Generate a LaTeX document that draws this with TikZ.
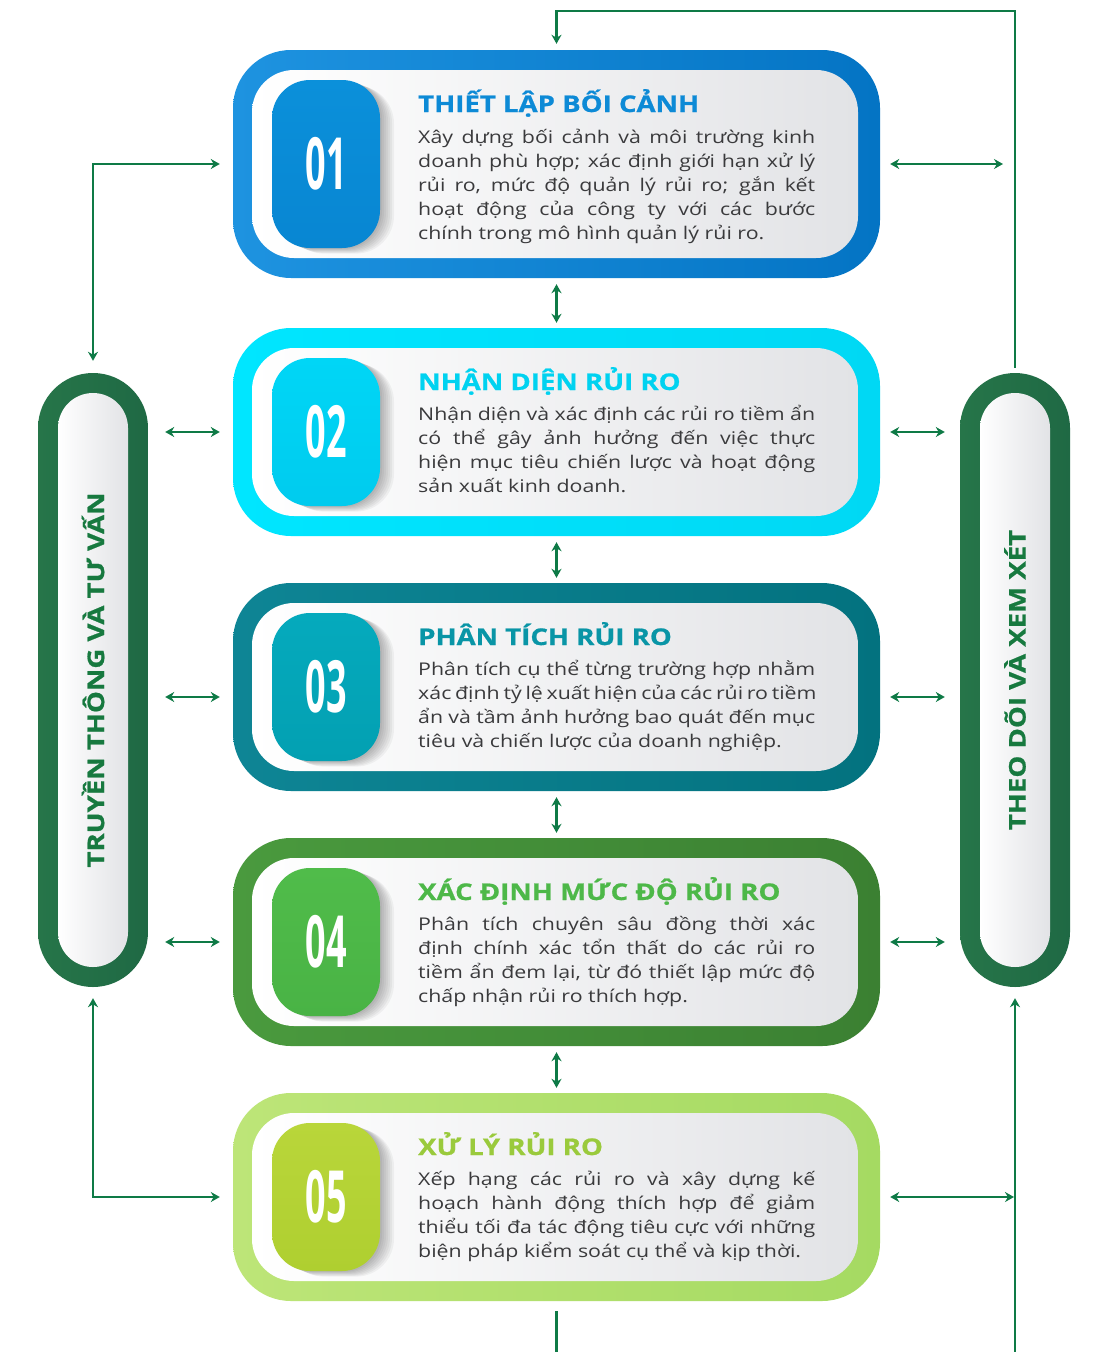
\documentclass[tikz,border=0pt]{standalone}
\usepackage{fontspec}
\usepackage{graphicx}
\setmainfont{Open Sans}[FakeStretch=1.22]
\newfontfamily\numfont{Open Sans}[FakeStretch=0.5]
\newfontfamily\headfont{Open Sans}[FakeStretch=1.2,BoldFeatures={FakeBold=0.8}]
\usetikzlibrary{arrows.meta}

\definecolor{c1a}{HTML}{1E93E0}\definecolor{c1b}{HTML}{0474C4}
\definecolor{c1c}{HTML}{0B90DA}\definecolor{c1d}{HTML}{0886D2}\definecolor{c1t}{HTML}{0D8AD6}
\definecolor{c2a}{HTML}{00E6FF}\definecolor{c2b}{HTML}{00D8F4}
\definecolor{c2c}{HTML}{00D6F6}\definecolor{c2d}{HTML}{00CBEE}\definecolor{c2t}{HTML}{00D2F0}
\definecolor{c3a}{HTML}{0E8595}\definecolor{c3b}{HTML}{03727F}
\definecolor{c3c}{HTML}{05AABD}\definecolor{c3d}{HTML}{03A0B2}\definecolor{c3t}{HTML}{0995A6}
\definecolor{c4a}{HTML}{4A9A3E}\definecolor{c4b}{HTML}{3B8032}
\definecolor{c4c}{HTML}{50BC4A}\definecolor{c4d}{HTML}{49B345}\definecolor{c4t}{HTML}{4DB848}
\definecolor{c5a}{HTML}{BDE578}\definecolor{c5b}{HTML}{A5DA62}
\definecolor{c5c}{HTML}{B9D63A}\definecolor{c5d}{HTML}{AFCF30}\definecolor{c5t}{HTML}{9ACA3C}
\definecolor{panelg}{HTML}{E2E3E6}
\definecolor{bodyg}{HTML}{3A3A3C}
\definecolor{pillA}{HTML}{267549}\definecolor{pillB}{HTML}{1F6944}
\definecolor{sideg}{HTML}{17793F}
\definecolor{lineg}{HTML}{0E7A46}

\tikzset{
 outerbox/.style={rectangle, rounded corners=58pt, minimum width=647pt, inner sep=0pt},
 panelbox/.style={rectangle, rounded corners=42pt, minimum width=606pt, inner sep=0pt, left color=white, right color=panelg},
 badgebox/.style={rectangle, rounded corners=38pt, minimum width=108pt, inner sep=0pt, text=white, font=\numfont\bfseries\fontsize{72}{72}\selectfont},
 shadowbox/.style={rectangle, rounded corners=38pt, minimum width=108pt, inner sep=0pt, fill=black, opacity=0.045},
 titletxt/.style={inner sep=0pt, font=\headfont\bfseries\fontsize{23}{26}\selectfont},
 bodytxt/.style={inner sep=0pt, text=bodyg, font=\fontsize{17.5}{24}\selectfont},
 pillout/.style={rectangle, rounded corners=55pt, minimum width=110pt, minimum height=614pt, inner sep=0pt, left color=pillA, right color=pillB},
 pillin/.style={rectangle, rounded corners=35pt, minimum width=70pt, minimum height=574pt, inner sep=0pt, left color=white, right color=panelg},
 sidetxt/.style={inner sep=0pt, text=sideg, font=\headfont\bfseries\fontsize{23}{24}\selectfont, rotate=90},
 conn/.style={draw=lineg, line width=2.2pt},
 >={Stealth[length=9pt,width=10pt]},
}

\newcommand\jl[1]{\makebox[\linewidth][s]{#1}\par}
\newcommand\riskcard[8]{%
 \node[outerbox, minimum height=#3, left color=#1a, right color=#1b] (#1) at (556.5,#2) {};
 \node[panelbox, minimum height={#3-40}] (#1p) at (555,#2) {};
 \foreach \s in {2,4,...,14} \node[shadowbox, minimum height={#3-60}] at ({326+\s},{#2+0.4*\s}) {};
 \node[badgebox, minimum height={#3-60}, top color=#1c, bottom color=#1d] (#1n) at (326,#2) {#4};
 \node[titletxt, text=#1t, anchor=base west] (#1h) at (418,#6) {#5};
 \node[bodytxt, anchor=base west] (#1x) at (418,#7) {\parbox[t]{397pt}{#8}};
}

\begin{document}
\begin{tikzpicture}[x=1pt,y=-1pt]
\fill[white] (0,0) rectangle (1097,1352);
\useasboundingbox (0,0) rectangle (1097,1352);

\riskcard{c1}{164}{228}{01}{THIẾT LẬP BỐI CẢNH}{112}{143}{%
\jl{Xây dựng bối cảnh và môi trường kinh}
\jl{doanh phù hợp; xác định giới hạn xử lý}
\jl{rủi ro, mức độ quản lý rủi ro; gắn kết}
\jl{hoạt động của công ty với các bước}
chính trong mô hình quản lý rủi ro.}

\riskcard{c2}{432}{208}{02}{NHẬN DIỆN RỦI RO}{390}{420}{%
\jl{Nhận diện và xác định các rủi ro tiềm ẩn}
\jl{có thể gây ảnh hưởng đến việc thực}
\jl{hiện mục tiêu chiến lược và hoạt động}
sản xuất kinh doanh.}

\riskcard{c3}{687}{208}{03}{PHÂN TÍCH RỦI RO}{645}{675}{%
\jl{Phân tích cụ thể từng trường hợp nhằm}
\jl{xác định tỷ lệ xuất hiện của các rủi ro tiềm}
\jl{ẩn và tầm ảnh hưởng bao quát đến mục}
tiêu và chiến lược của doanh nghiệp.}

\riskcard{c4}{942}{208}{04}{XÁC ĐỊNH MỨC ĐỘ RỦI RO}{900}{930}{%
\jl{Phân tích chuyên sâu đồng thời xác}
\jl{định chính xác tổn thất do các rủi ro}
\jl{tiềm ẩn đem lại, từ đó thiết lập mức độ}
chấp nhận rủi ro thích hợp.}

\riskcard{c5}{1197}{208}{05}{XỬ LÝ RỦI RO}{1155}{1185}{%
\jl{Xếp hạng các rủi ro và xây dựng kế}
\jl{hoạch hành động thích hợp để giảm}
\jl{thiểu tối đa tác động tiêu cực với những}
biện pháp kiểm soát cụ thể và kịp thời.}

% side pills
\node[pillout] (lp) at (93,680) {};
\node[pillin] (lpi) at (93,680) {};
\node[sidetxt] (lpt) at (93,680) {TRUYỀN THÔNG VÀ TƯ VẤN};
\node[pillout] (rp) at (1015,680) {};
\node[pillin] (rpi) at (1015,680) {};
\node[sidetxt] (rpt) at (1015,680) {THEO DÕI VÀ XEM XÉT};

% helper coordinates
\coordinate (topy) at (0,11);
\coordinate (boty) at (0,1352);
\coordinate (c3l) at ([yshift=-10pt]c3.west);
\coordinate (c3r) at ([yshift=-10pt]c3.east);

% vertical arrows between cards
\foreach \a/\b in {c1/c2,c2/c3,c3/c4,c4/c5}
  \draw[conn,<->,shorten <=6pt,shorten >=5pt] (\a.south) -- (\b.north);

% left connectors
\draw[conn,<->,shorten <=13pt,shorten >=12pt] (c1.west) -| (lp.north);
\draw[conn,<->,shorten <=13pt,shorten >=11pt] (c5.west) -| (lp.south);
\draw[conn,<->,shorten <=17pt,shorten >=13pt] (lp.east |- c2.west) -- (c2.west);
\draw[conn,<->,shorten <=17pt,shorten >=13pt] (lp.east |- c3l) -- (c3l);
\draw[conn,<->,shorten <=17pt,shorten >=13pt] (lp.east |- c4.west) -- (c4.west);

% right connectors
\draw[conn,<->,shorten <=10pt,shorten >=12pt] (c1.east) -- (c1.east -| rp.north);
\draw[conn,<->,shorten <=10pt,shorten >=15pt] (c2.east) -- (c2.east -| rp.west);
\draw[conn,<->,shorten <=10pt,shorten >=15pt] (c3r) -- (c3r -| rp.west);
\draw[conn,<->,shorten <=10pt,shorten >=15pt] (c4.east) -- (c4.east -| rp.west);
\draw[conn,<->,shorten <=10pt,shorten >=1pt] (c5.east) -- (c5.east -| rp.south);

% loop from right pill to card 1
\draw[conn,->,shorten <=5pt,shorten >=6pt] (rp.north) -- (rp.north |- topy) -| (c1.north);
% lines leaving the bottom
\draw[conn,->,shorten >=11pt] (rp.south |- boty) -- (rp.south);
\draw[conn,shorten <=10pt] (c5.south) -- (c5.south |- boty);
\end{tikzpicture}
\end{document}
